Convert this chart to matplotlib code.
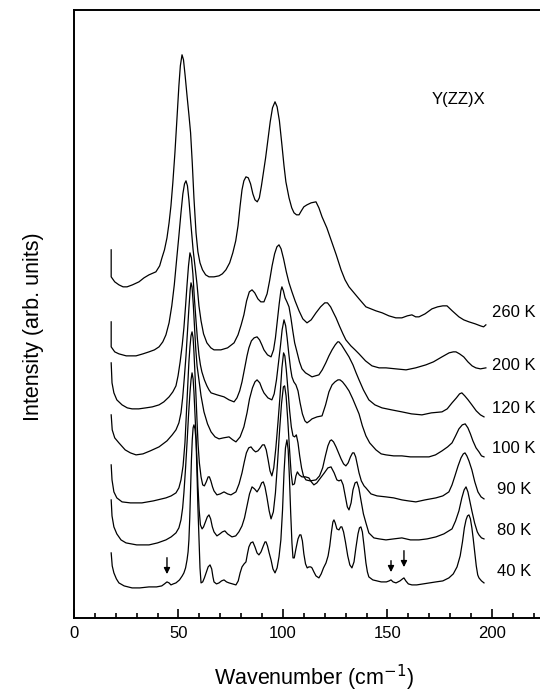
import matplotlib
matplotlib.use('Agg')
import matplotlib.pyplot as plt
from matplotlib.ticker import MultipleLocator

plt.rcParams['font.family'] = ['Liberation Sans', 'DejaVu Sans']

# Raman spectra Y(ZZ)X, stacked (vertical offsets already included, arb. units)
wn_260 = [17.8, 17.8, 19.5, 21.5, 23.5, 25.4, 28.0, 31.1, 33.5, 35.9, 39.2, 41.0, 42.1, 43.3, 44.5,
          45.5, 46.4, 47.3, 48.3, 49.3, 50.2, 50.9, 51.7, 52.4, 53.2, 54.1, 55.0, 55.8, 56.6, 57.4,
          58.4, 59.3, 60.3, 61.5, 63.0, 64.6, 67.0, 69.4, 71.0, 72.7, 74.5, 76.0, 77.4, 78.5, 79.5,
          80.4, 81.3, 82.3, 83.4, 84.5, 85.6, 86.6, 87.7, 88.7, 89.7, 90.7, 91.7, 92.8, 93.9, 95.0,
          96.2, 97.2, 98.3, 99.5, 100.5, 101.4, 102.9, 104.2, 105.3, 106.5, 107.7, 108.8, 110.0,
          111.5, 113.5, 115.8, 117.2, 118.7, 121.0, 123.0, 125.5, 127.8, 129.7, 131.6, 134.0, 136.4,
          139.7, 144.5, 147.5, 150.7, 154.0, 156.9, 159.5, 161.7, 163.5, 165.1, 168.0, 171.3, 174.0,
          176.5, 178.5, 181.0, 184.2, 186.5, 189.0, 192.0, 194.5, 196.0, 197.1]
I_260 = [368, 341, 336, 333, 331, 331, 333, 336, 340, 343, 346, 352, 360, 368, 380,
         395, 412, 435, 465, 500, 532, 552, 563, 558, 542, 522, 503, 485, 455, 420,
         385, 366, 355, 348, 343, 341, 341, 342, 344, 348, 355, 365, 377, 392, 412,
         428, 437, 441, 440, 434, 424, 418, 416, 420, 432, 446, 460, 478, 496, 510,
         516, 511, 497, 473, 452, 436, 420, 410, 405, 403, 403, 407, 411,
         413, 415, 416, 410, 401, 390, 378, 363, 348, 338, 331, 325, 319,
         311, 307, 305, 302, 300, 300, 302, 303, 301, 301, 304, 309, 311,
         312, 312, 307, 301, 298, 296, 294, 292, 291, 293]

wn_200 = [17.8, 17.8, 19.5, 21.5, 25.0, 29.7, 33.0, 35.9, 38.5, 40.7, 42.5, 44.0, 45.5, 46.8, 48.0,
          49.2, 50.2, 51.2, 52.1, 52.9, 53.6, 54.3, 55.0, 55.9, 57.0, 58.0, 58.9, 59.8, 60.8, 62.0,
          63.6, 65.5, 67.0, 70.3, 73.5, 76.6, 78.5, 80.0, 81.3, 82.6, 83.9, 85.2, 86.5, 88.0, 89.4,
          90.9, 92.4, 93.6, 94.8, 96.0, 97.1, 98.1, 99.1, 100.3, 101.6, 102.9, 104.3, 105.8, 107.7,
          109.5, 111.5, 113.5, 115.8, 118.0, 120.0, 121.3, 122.8, 124.2, 125.4, 127.0, 128.7, 130.1,
          132.5, 134.5, 136.4, 139.5, 142.6, 146.0, 149.3, 154.0, 158.9, 163.5, 168.4, 172.0, 176.1,
          179.5, 181.5, 182.8, 184.5, 186.5, 188.5, 190.5, 192.3, 194.5, 197.1]
I_200 = [296, 271, 266, 264, 262, 262, 264, 266, 268, 271, 276, 283, 295, 312, 333,
         360, 382, 405, 424, 434, 437, 432, 418, 395, 368, 350, 333, 312, 297, 284,
         275, 270, 268, 268, 270, 275, 283, 293, 303, 317, 326, 328, 325, 319, 316,
         316, 324, 337, 352, 364, 371, 373, 369, 359, 346, 335, 326, 317, 307,
         299, 295, 298, 305, 311, 315, 315, 311, 305, 300, 292, 284, 278,
         272, 268, 264, 257, 252, 250, 250, 249, 248, 250, 253, 256, 261,
         265, 266, 266, 264, 261, 256, 252, 250, 249, 250]

wn_120 = [17.8, 18.2, 19.1, 20.5, 23.0, 25.5, 27.8, 31.0, 34.4, 37.5, 40.7, 43.0, 45.5, 47.3, 48.8,
          49.8, 50.8, 51.8, 52.6, 53.4, 54.1, 54.8, 55.5, 56.2, 56.9, 57.6, 58.4, 59.1, 59.8, 60.5,
          61.2, 62.4, 63.6, 64.6, 65.6, 68.5, 71.8, 74.2, 76.6, 78.0, 79.3, 80.4, 81.7, 82.8, 83.7,
          84.9, 86.2, 87.6, 88.8, 89.9, 90.9, 92.6, 94.3, 95.5, 96.4, 97.3, 98.2, 99.0, 99.5, 100.2,
          101.0, 101.9, 102.9, 103.8, 104.7, 105.6, 106.7, 107.9, 109.1, 110.8, 112.4, 113.9, 115.5,
          117.2, 118.8, 120.5, 122.0, 123.5, 125.0, 126.2, 126.8, 128.0, 129.8, 131.6, 133.5, 135.0,
          136.4, 138.5, 141.1, 144.0, 147.4, 152.0, 156.9, 161.5, 166.5, 171.0, 176.1, 178.6, 180.9,
          183.0, 184.5, 185.6, 187.0, 188.6, 190.4, 192.5, 194.5, 196.2]
I_120 = [255, 235, 225, 218, 213, 210, 209, 209, 210, 211, 213, 216, 221, 226, 232,
         242, 256, 273, 290, 312, 333, 352, 365, 360, 344, 320, 297, 278, 263, 253,
         246, 238, 232, 228, 225, 223, 221, 218, 216, 220, 227, 236, 250, 262, 270,
         277, 280, 281, 278, 273, 268, 263, 261, 268, 280, 297, 314, 327, 331, 327,
         320, 316, 311, 300, 287, 275, 266, 256, 249, 245, 243, 241, 242,
         243, 248, 255, 262, 268, 273, 276, 276, 273, 267, 261, 253, 245,
         238, 228, 218, 213, 210, 208, 206, 204, 203, 205, 206, 209, 215,
         220, 224, 225, 222, 218, 213, 207, 203, 201]

wn_100 = [17.8, 18.3, 19.5, 21.5, 24.5, 27.0, 29.7, 33.0, 36.5, 40.7, 44.5, 47.0, 48.8, 50.2, 51.2,
          52.0, 52.8, 53.6, 54.3, 55.0, 55.6, 56.0, 56.5, 57.1, 57.7, 58.3, 58.9, 59.8, 60.8, 62.2,
          63.9, 65.6, 67.5, 69.4, 71.5, 74.2, 76.0, 77.5, 79.5, 81.3, 82.8, 84.0, 85.4, 86.6, 87.6,
          88.9, 90.0, 90.9, 92.8, 94.7, 95.8, 96.9, 97.8, 98.8, 99.6, 100.5, 101.3, 102.0, 102.8,
          103.6, 104.3, 105.2, 106.2, 107.2, 108.2, 109.3, 110.5, 111.5, 112.8, 113.9, 116.3, 118.7,
          120.4, 122.0, 123.5, 124.9, 126.3, 127.3, 128.5, 130.0, 131.6, 133.4, 135.0, 136.4, 138.0,
          139.7, 141.5, 144.5, 147.0, 149.3, 153.0, 156.9, 161.0, 165.1, 169.9, 173.0, 176.1, 178.8,
          180.9, 182.6, 184.2, 185.8, 187.2, 188.5, 189.7, 190.9, 192.4, 193.8, 195.0, 196.2]
I_100 = [203, 188, 180, 175, 168, 165, 163, 164, 167, 171, 177, 183, 188, 195, 205,
         220, 240, 262, 286, 310, 328, 335, 331, 313, 290, 268, 252, 238, 222, 206,
         194, 186, 181, 179, 180, 181, 178, 176, 181, 191, 205, 219, 230, 236, 238,
         235, 229, 225, 220, 218, 224, 238, 254, 272, 288, 298, 292, 280, 264,
         250, 241, 236, 233, 227, 215, 204, 197, 195, 197, 199, 201, 202,
         213, 226, 233, 236, 238, 238, 236, 232, 227, 219, 211, 204, 192,
         182, 175, 168, 164, 163, 162, 162, 161, 161, 161, 163, 167, 171,
         175, 182, 189, 193, 194, 190, 184, 177, 170, 166, 162, 161]

wn_90 = [17.8, 18.2, 19.1, 20.5, 23.0, 27.0, 32.5, 38.0, 44.0, 46.5, 48.8, 50.2, 51.2, 52.2, 53.1,
         53.8, 54.5, 55.0, 55.5, 56.0, 56.5, 57.0, 57.4, 57.9, 58.4, 58.9, 59.4, 60.0, 60.8, 61.6,
         62.4, 63.3, 64.2, 64.8, 65.5, 66.3, 67.0, 68.4, 70.0, 71.8, 73.5, 75.1, 77.5, 79.0, 80.4,
         81.5, 82.5, 83.6, 84.7, 85.8, 86.9, 88.0, 89.2, 90.2, 91.1, 92.0, 92.9, 93.8, 94.7, 95.6,
         96.6, 97.6, 98.6, 99.5, 100.3, 100.9, 101.6, 102.4, 103.2, 104.0, 104.8, 105.6, 106.4,
         107.2, 108.0, 108.9, 109.8, 111.0, 113.0, 115.8, 117.5, 119.0, 120.3, 121.5, 122.5, 123.2,
         124.2, 125.4, 126.6, 127.8, 129.0, 130.1, 131.2, 132.3, 133.3, 134.0, 134.8, 135.6, 136.4,
         137.5, 138.8, 139.7, 142.1, 145.0, 149.3, 153.0, 156.9, 160.0, 163.6, 168.0, 173.2, 176.5,
         179.4, 180.9, 182.3, 183.8, 185.2, 186.3, 187.1, 188.0, 189.0, 190.4, 191.8, 193.3, 194.8,
         196.2]
I_90 = [153, 138, 126, 120, 116, 115, 115, 117, 120, 122, 125, 130, 138, 152, 175,
        205, 235, 256, 271, 282, 286, 280, 266, 244, 221, 196, 173, 155, 141, 133,
        132, 136, 141, 141, 137, 131, 127, 123, 124, 126, 124, 123, 126, 134, 145,
        156, 165, 170, 171, 168, 166, 167, 170, 173, 173, 168, 158, 147, 142, 150,
        170, 195, 222, 250, 265, 262, 248, 228, 207, 191, 182, 181, 183,
        175, 162, 150, 142, 138, 137, 138, 142, 150, 162, 172, 177, 178,
        176, 171, 165, 159, 154, 152, 155, 161, 165, 165, 161, 153, 145,
        137, 132, 130, 124, 122, 121, 120, 118, 117, 116, 118, 120, 122,
        126, 133, 142, 152, 160, 164, 165, 162, 157, 148, 136, 126, 121,
        119]

wn_80 = [17.8, 18.2, 19.1, 20.5, 22.5, 24.9, 30.0, 35.9, 40.0, 44.0, 46.5, 48.8, 50.2, 51.2, 52.0,
         52.6, 53.4, 54.1, 54.8, 55.5, 56.0, 56.5, 57.0, 57.4, 57.9, 58.4, 58.9, 59.3, 59.9, 60.5,
         61.3, 62.0, 62.9, 63.8, 64.6, 65.4, 66.2, 67.0, 68.4, 69.8, 71.0, 72.2, 73.5, 75.6, 77.4,
         78.9, 80.4, 81.6, 82.8, 84.0, 85.2, 86.4, 87.6, 88.8, 89.8, 90.6, 91.4, 92.3, 93.4, 94.3,
         95.4, 96.4, 97.4, 98.4, 99.3, 100.2, 100.8, 101.5, 102.3, 103.1, 103.9, 104.6, 105.5,
         106.2, 106.9, 107.8, 109.1, 110.8, 112.4, 113.6, 114.8, 116.2, 118.0, 119.8, 121.5, 123.0,
         124.5, 125.8, 126.8, 127.8, 128.8, 129.8, 130.8, 131.6, 132.6, 133.5, 134.5, 135.4, 136.3,
         137.3, 138.5, 139.7, 141.1, 143.5, 146.0, 149.3, 153.0, 156.9, 161.0, 165.1, 169.0, 173.2,
         177.0, 180.9, 182.6, 184.2, 185.6, 186.7, 187.6, 188.5, 189.5, 190.4, 191.7, 193.0, 193.8,
         195.0, 196.2]
I_80 = [118, 102, 91, 84, 78, 75, 73, 73, 75, 78, 81, 85, 90, 98, 110,
        125, 150, 175, 202, 225, 238, 245, 239, 226, 204, 181, 155, 132, 108, 93,
        89, 91, 96, 101, 103, 99, 91, 86, 82, 84, 86, 87, 84, 81, 82,
        86, 92, 100, 112, 124, 131, 129, 126, 130, 135, 136, 131, 121, 107, 99,
        106, 125, 155, 188, 214, 231, 232, 222, 198, 170, 145, 133, 134,
        142, 146, 143, 141, 141, 140, 136, 133, 135, 140, 145, 150, 151,
        145, 138, 137, 138, 133, 122, 111, 108, 115, 128, 135, 136, 130,
        118, 104, 95, 85, 80, 79, 78, 79, 80, 78, 78, 79, 81,
        84, 89, 97, 107, 120, 128, 131, 126, 116, 107, 95, 86, 83,
        80, 79]

wn_40 = [17.8, 18.3, 19.1, 20.3, 21.5, 24.0, 27.8, 31.5, 35.9, 39.5, 42.0, 43.3, 44.5, 45.5, 46.4,
         47.5, 48.8, 50.5, 51.8, 52.6, 53.4, 54.1, 54.6, 55.0, 55.4, 55.8, 56.2, 56.6, 57.0, 57.4,
         57.9, 58.4, 58.8, 59.3, 59.8, 60.3, 60.8, 61.6, 62.4, 63.2, 64.2, 65.1, 65.9, 66.5, 67.0,
         68.2, 69.4, 70.6, 71.8, 73.0, 74.2, 75.8, 77.5, 78.6, 79.5, 80.4, 81.4, 82.3, 83.0, 83.7,
         84.6, 85.6, 86.6, 87.6, 88.5, 89.5, 90.6, 91.4, 91.9, 92.6, 93.4, 94.3, 95.2, 96.2, 97.2,
         98.1, 99.0, 99.8, 100.5, 101.2, 101.9, 102.5, 103.1, 103.7, 104.3, 104.8, 105.4, 106.2,
         107.2, 108.0, 108.6, 109.3, 110.0, 110.8, 111.6, 112.4, 113.3, 113.9, 114.8, 115.8, 117.2,
         118.3, 119.4, 120.6, 121.6, 122.4, 123.2, 123.9, 124.4, 125.0, 125.8, 126.8, 127.6, 128.2,
         129.0, 129.9, 131.0, 132.0, 133.0, 134.0, 134.9, 135.9, 136.6, 137.3, 138.0, 138.8, 139.7,
         140.4, 141.1, 143.0, 145.0, 147.0, 149.5, 150.8, 151.7, 152.7, 154.1, 156.0, 157.2, 157.9,
         158.8, 160.0, 161.7, 164.0, 167.0, 170.0, 173.2, 176.5, 179.4, 181.5, 183.3, 184.8, 185.9,
         186.8, 187.6, 188.3, 189.0, 189.7, 190.4, 191.0, 191.7, 192.5, 193.2, 193.8, 195.0, 196.2]
I_40 = [65, 52, 45, 39, 35, 32, 30, 30, 31, 31, 32, 34, 36, 35, 33,
        34, 35, 38, 42, 45, 50, 58, 66, 78, 100, 130, 158, 178, 190, 193,
        189, 178, 150, 111, 80, 50, 35, 36, 40, 45, 51, 53, 49, 41, 36,
        34, 35, 37, 38, 36, 35, 34, 33, 37, 45, 51, 54, 56, 64, 71,
        75, 76, 71, 65, 63, 66, 72, 76, 76, 72, 65, 58, 49, 45, 50,
        61, 78, 108, 145, 170, 178, 168, 140, 105, 75, 60, 60, 69,
        79, 83, 83, 77, 64, 54, 50, 51, 51, 50, 46, 42, 40,
        44, 50, 55, 62, 72, 86, 96, 98, 95, 89, 88, 91, 91,
        86, 76, 62, 53, 50, 56, 70, 84, 90, 91, 86, 72, 55,
        46, 41, 38, 37, 36, 36, 37, 38, 36, 35, 37, 39, 40,
        37, 34, 33, 33, 34, 35, 36, 37, 40, 44, 51, 62, 76,
        90, 98, 102, 103, 99, 90, 80, 67, 52, 43, 40, 37, 35]

temps = ['260 K', '200 K', '120 K', '100 K', '90 K', '80 K', '40 K']
label_y = [305, 252, 209, 169, 128, 87, 46]

# arrows marking weak modes in the 40 K spectrum
arrow_x = [44.5, 151.7, 157.9]
arrow_top = [63, 60, 70]
arrow_tip = [41, 43, 48]

fig = plt.figure(figsize=(5.4, 6.99), dpi=100)
ax = fig.add_axes([0.137, 0.116, 0.863, 0.870])

for wn, inten in [(wn_260, I_260), (wn_200, I_200), (wn_120, I_120), (wn_100, I_100),
                  (wn_90, I_90), (wn_80, I_80), (wn_40, I_40)]:
    ax.plot(wn, inten, color='black', lw=0.9)

for t, y in zip(temps, label_y):
    ax.text(210.5, y, t, ha='center', va='center', fontsize=12)

for x, y0, y1 in zip(arrow_x, arrow_top, arrow_tip):
    ax.annotate('', xy=(x, y1), xytext=(x, y0),
                arrowprops=dict(arrowstyle='-|>', color='black', lw=1, mutation_scale=9))

ax.text(184, 518, 'Y(ZZ)X', ha='center', va='center', fontsize=12)

ax.set_xlim(0, 223)
ax.set_ylim(0, 608)
ax.xaxis.set_major_locator(MultipleLocator(50))
ax.xaxis.set_minor_locator(MultipleLocator(10))
ax.tick_params(axis='x', which='both', direction='in', top=False, labelsize=12, width=1.2)
ax.tick_params(axis='x', which='major', length=6.5, pad=6)
ax.tick_params(axis='x', which='minor', length=3.5)
ax.set_yticks([])
ax.spines['right'].set_visible(False)
for s in ['left', 'bottom', 'top']:
    ax.spines[s].set_linewidth(1.4)

fig.text(314 / 540, 1 - 678 / 699, 'Wavenumber (cm$^{-1}$)', ha='center', va='center', fontsize=15.5)
fig.text(34 / 540, 1 - 327 / 699, 'Intensity (arb. units)', ha='center', va='center',
         rotation=90, fontsize=15.5)

fig.savefig('out.png', dpi=100)
